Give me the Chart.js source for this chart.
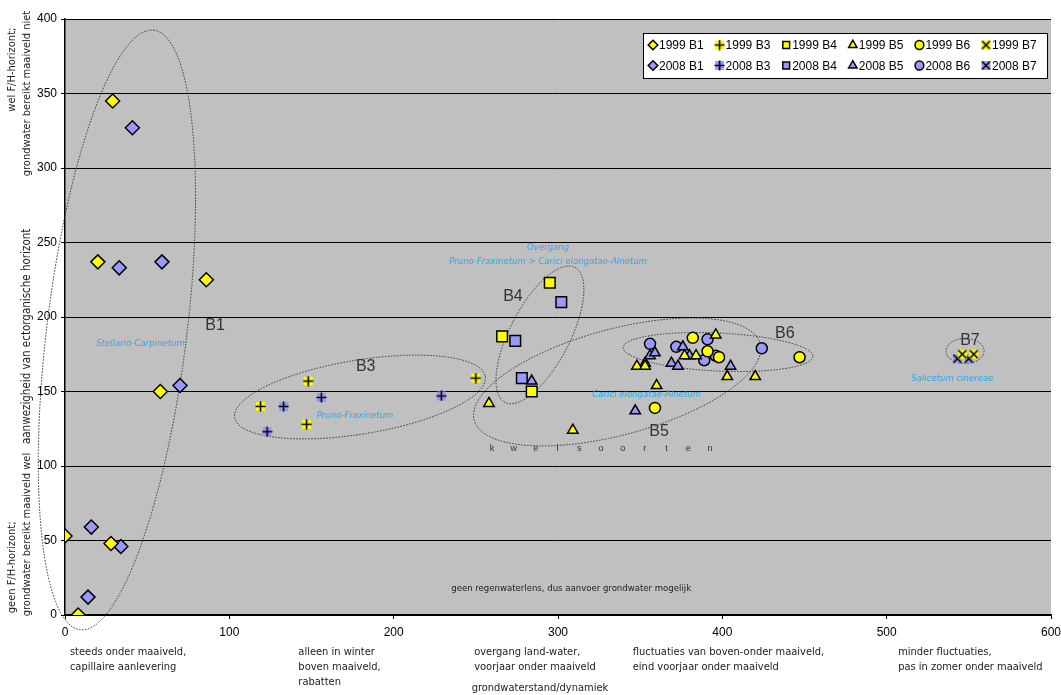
<!DOCTYPE html>
<html>
<head>
<meta charset="utf-8">
<script src="https://cdn.jsdelivr.net/npm/chart.js@4"></script>
<style>
  html, body { margin: 0; padding: 0; background: #fff; }
  #wrap { width: 1061px; height: 695px; }
</style>
</head>
<body>
<div id="wrap"><canvas id="chart"></canvas></div>
<script>
// data: [grondwaterstand/dynamiek, ectorganische horizont]
const b1_1999 = [[29, 345], [20, 237], [86, 225], [58, 150], [0, 53], [28, 48], [8, 0]];
const b1_2008 = [[41, 327], [33, 233], [59, 237], [70, 154], [16, 59], [34, 46], [14, 12]];
const b3_1999 = [[148, 157], [119, 140], [147, 128], [250, 159]];
const b3_2008 = [[133, 140], [156, 146], [123, 123], [229, 147]];
const b4_1999 = [[295, 223], [266, 187], [284, 150]];
const b4_2008 = [[302, 210], [274, 184], [278, 159]];
const b5_1999 = [[258, 142], [309, 124], [348, 167], [353, 167], [360, 154], [377, 174], [384, 174], [396, 188], [403, 160], [420, 160]];
const b5_2008 = [[284, 157], [347, 137], [356, 174], [359, 176], [353, 169], [369, 169], [373, 167], [376, 180], [380, 174], [405, 167]];
const b6_1999 = [[382, 186], [391, 177], [398, 173], [447, 173], [359, 139]];
const b6_2008 = [[356, 182], [372, 180], [391, 185], [396, 174], [389, 171], [424, 179]];
const b7_1999 = [[546, 175], [553, 175]];
const b7_2008 = [[543, 172], [550, 172]];

const xTicks = [0, 100, 200, 300, 400, 500, 600];
const yTicks = [0, 50, 100, 150, 200, 250, 300, 350, 400];

const YELLOW = "#ffff00";
const BLUE = "#9999ff";

// zone labels under the x axis
const xDescriptions = [
    { x: 3, lines: ["steeds onder maaiveld,", "capillaire aanlevering"] },
    { x: 142, lines: ["alleen in winter", "boven maaiveld,", "rabatten"] },
    { x: 249, lines: ["overgang land-water,", "voorjaar onder maaiveld"] },
    { x: 345.5, lines: ["fluctuaties van boven-onder maaiveld,", "eind voorjaar onder maaiveld"] },
    { x: 507, lines: ["minder fluctuaties,", "pas in zomer onder maaiveld"] }
];

// dotted groups: centre in data units, radii in px, rotation in degrees
const groups = [
    { x: 31.6, y: 191.3, rx: 302, ry: 70, rot: -83 },
    { x: 179.5, y: 146.3, rx: 127, ry: 37, rot: -9.3 },
    { x: 289, y: 188, rx: 76, ry: 30, rot: -62.6 },
    { x: 336, y: 156.4, rx: 148, ry: 53, rot: -15 },
    { x: 397.4, y: 176.5, rx: 95, ry: 19, rot: 2.7 },
    { x: 547.7, y: 177.2, rx: 19, ry: 12.5, rot: 0 }
];
const groupNames = [
    { text: "B1", x: 91.3, y: 194 },
    { text: "B3", x: 183, y: 167 },
    { text: "B4", x: 272.6, y: 213.4 },
    { text: "B5", x: 361.5, y: 122.8 },
    { text: "B6", x: 438, y: 188.6 },
    { text: "B7", x: 550.7, y: 183.9 }
];
const vegetationNames = [
    { text: "Stellario-Carpinetum", x: 46, y: 182 },
    { text: "Pruno-Fraxinetum", x: 176.5, y: 133.6 },
    { text: "Overgang", x: 294, y: 246.3 },
    { text: "Pruno-Fraxinetum > Carici elongatae-Alnetum", x: 294, y: 237.3 },
    { text: "Carici elongatae-Alnetum", x: 354, y: 148.3 },
    { text: "Salicetum cinereae", x: 540, y: 159 }
];

const NARROW = "'Liberation Sans Narrow', 'DejaVu Sans Condensed', 'Liberation Sans', sans-serif";

function toPoints(arr) {
    return arr.map(p => ({ x: p[0], y: p[1] }));
}

// Excel style "+" and "x" markers: coloured square with black strokes
function crossMarker(fill, diagonal) {
    const c = document.createElement("canvas");
    c.width = 11;
    c.height = 11;
    const g = c.getContext("2d");
    g.fillStyle = fill;
    g.fillRect(1, 1, 9, 9);
    g.strokeStyle = "#000";
    g.lineWidth = 1.6;
    g.beginPath();
    if (diagonal) {
        g.moveTo(1.5, 1.5); g.lineTo(9.5, 9.5);
        g.moveTo(9.5, 1.5); g.lineTo(1.5, 9.5);
    } else {
        g.moveTo(5.5, 0.5); g.lineTo(5.5, 10.5);
        g.moveTo(0.5, 5.5); g.lineTo(10.5, 5.5);
    }
    g.stroke();
    return c;
}

function makeSet(label, arr, color, style, radius) {
    return {
        label: label,
        data: toPoints(arr),
        pointStyle: style,
        pointRadius: radius,
        pointHoverRadius: radius,
        backgroundColor: color,
        borderColor: "#000",
        borderWidth: 1.5,
        showLine: false
    };
}

const datasets = [
    makeSet("1999 B1", b1_1999, YELLOW, "rectRot", 7),
    makeSet("1999 B3", b3_1999, YELLOW, crossMarker(YELLOW, false), 5),
    makeSet("1999 B4", b4_1999, YELLOW, "rect", 7.5),
    makeSet("1999 B5", b5_1999, YELLOW, "triangle", 6),
    makeSet("1999 B6", b6_1999, YELLOW, "circle", 5.5),
    makeSet("1999 B7", b7_1999, YELLOW, crossMarker(YELLOW, true), 5),
    makeSet("2008 B1", b1_2008, BLUE, "rectRot", 7),
    makeSet("2008 B3", b3_2008, BLUE, crossMarker(BLUE, false), 5),
    makeSet("2008 B4", b4_2008, BLUE, "rect", 7.5),
    makeSet("2008 B5", b5_2008, BLUE, "triangle", 6),
    makeSet("2008 B6", b6_2008, BLUE, "circle", 5.5),
    makeSet("2008 B7", b7_2008, BLUE, crossMarker(BLUE, true), 5)
];

// grey plot area
const plotBackground = {
    id: "plotBackground",
    beforeDraw(chart) {
        const { ctx, chartArea: a } = chart;
        ctx.save();
        ctx.fillStyle = "#fff";
        ctx.fillRect(0, 0, chart.width, chart.height);
        ctx.fillStyle = "#c0c0c0";
        ctx.fillRect(a.left, a.top, a.right - a.left, a.bottom - a.top);
        ctx.restore();
    }
};

// ellipses and text inside the plot
const annotations = {
    id: "annotations",
    beforeDatasetsDraw(chart) {
        const { ctx } = chart;
        const xs = chart.scales.x, ys = chart.scales.y;
        ctx.save();
        ctx.strokeStyle = "#333";
        ctx.lineWidth = 1;
        ctx.setLineDash([1.5, 1.5]);
        groups.forEach(g => {
            ctx.beginPath();
            ctx.ellipse(xs.getPixelForValue(g.x), ys.getPixelForValue(g.y), g.rx, g.ry, g.rot * Math.PI / 180, 0, Math.PI * 2);
            ctx.stroke();
        });
        ctx.setLineDash([]);

        ctx.textAlign = "center";
        ctx.textBaseline = "middle";
        ctx.fillStyle = "#333";
        ctx.font = "16px 'Liberation Sans', Arial, sans-serif";
        groupNames.forEach(n => ctx.fillText(n.text, xs.getPixelForValue(n.x), ys.getPixelForValue(n.y)));

        ctx.fillStyle = "#29a9e6";
        ctx.font = "italic 9.5px " + NARROW;
        vegetationNames.forEach(n => ctx.fillText(n.text, xs.getPixelForValue(n.x), ys.getPixelForValue(n.y)));

        ctx.fillStyle = "#333";
        ctx.font = "9px 'Liberation Sans', Arial, sans-serif";
        const kwel = "kwelsoorten".split("");
        const kx = xs.getPixelForValue(326.2), ky = ys.getPixelForValue(112);
        kwel.forEach((ch, i) => ctx.fillText(ch, kx + (i - (kwel.length - 1) / 2) * 21.8, ky));

        ctx.fillStyle = "#222";
        ctx.font = "9.5px " + NARROW;
        ctx.fillText("geen regenwaterlens, dus aanvoer grondwater mogelijk", xs.getPixelForValue(308), ys.getPixelForValue(18));
        ctx.restore();
    }
};

// axis descriptions and legend box
const extras = {
    id: "extras",
    afterDraw(chart) {
        const { ctx, chartArea: a } = chart;
        const xs = chart.scales.x, ys = chart.scales.y;
        ctx.save();
        ctx.fillStyle = "#222";
        ctx.font = "11px " + NARROW;
        ctx.textBaseline = "middle";
        ctx.textAlign = "left";
        xDescriptions.forEach(d => {
            d.lines.forEach((t, i) => ctx.fillText(t, xs.getPixelForValue(d.x), a.bottom + 37 + i * 15));
        });
        ctx.textAlign = "center";
        ctx.fillText("grondwaterstand/dynamiek", xs.getPixelForValue(289), a.bottom + 73);

        // y axis texts, rotated
        const yTitles = [
            { text: "wel F/H-horizont;", x: 12, y: ys.getPixelForValue(366), size: 11 },
            { text: "grondwater bereikt maaiveld niet", x: 27, y: ys.getPixelForValue(350), size: 11 },
            { text: "aanwezigheid van ectorganische horizont", x: 27, y: ys.getPixelForValue(187), size: 11.5 },
            { text: "geen F/H-horizont;", x: 12, y: ys.getPixelForValue(32), size: 11 },
            { text: "grondwater bereikt maaiveld wel", x: 27, y: ys.getPixelForValue(54), size: 11 }
        ];
        yTitles.forEach(t => {
            ctx.save();
            ctx.translate(t.x, t.y);
            ctx.rotate(-Math.PI / 2);
            ctx.font = t.size + "px " + NARROW;
            ctx.fillText(t.text, 0, 0);
            ctx.restore();
        });

        // legend
        const lx = a.right - 408, ly = a.top + 14, lw = 404, lh = 45;
        ctx.fillStyle = "#fff";
        ctx.fillRect(lx, ly, lw, lh);
        ctx.strokeStyle = "#000";
        ctx.lineWidth = 1;
        ctx.strokeRect(lx + 0.5, ly + 0.5, lw, lh);
        ctx.font = "12px 'Liberation Sans', Arial, sans-serif";
        ctx.textAlign = "left";
        chart.data.datasets.forEach((ds, i) => {
            const col = i % 6, row = Math.floor(i / 6);
            const px = lx + 10 + col * 66.6, py = ly + 12 + row * 20.5;
            ctx.fillStyle = ds.backgroundColor;
            ctx.strokeStyle = "#000";
            ctx.lineWidth = 1.5;
            const r = typeof ds.pointStyle === "string" ? Math.min(ds.pointRadius, 6) * 0.8 : 4;
            Chart.helpers.drawPoint(ctx, { pointStyle: ds.pointStyle, radius: r, borderWidth: 1.5, rotation: 0 }, px, py);
            ctx.fillStyle = "#000";
            ctx.fillText(ds.label, px + 6, py + 1);
        });
        ctx.restore();
    }
};

new Chart(document.getElementById("chart"), {
    type: "scatter",
    data: { datasets: datasets },
    options: {
        responsive: true,
        maintainAspectRatio: false,
        animation: false,
        layout: { padding: { top: 19, right: 10, left: 0, bottom: 0 } },
        plugins: {
            legend: { display: false },
            tooltip: { enabled: false }
        },
        scales: {
            x: {
                type: "linear",
                min: 0,
                max: 600,
                afterBuildTicks: s => { s.ticks = xTicks.map(v => ({ value: v })); },
                afterFit: s => { s.height = 80; s.paddingLeft = 0; s.paddingRight = 0; },
                ticks: { color: "#000", font: { family: "'Liberation Sans', Arial, sans-serif", size: 12 }, padding: 6 },
                grid: { drawOnChartArea: false, drawTicks: true, tickLength: 4, color: "#000" },
                border: { color: "#000", width: 1.5 }
            },
            y: {
                type: "linear",
                min: 0,
                max: 400,
                afterBuildTicks: s => { s.ticks = yTicks.map(v => ({ value: v })); },
                afterFit: s => { s.width = 65; s.paddingTop = 0; s.paddingBottom = 0; },
                ticks: { color: "#000", font: { family: "'Liberation Sans', Arial, sans-serif", size: 12 }, padding: 4 },
                grid: { color: "#000", lineWidth: 1, tickLength: 4 },
                border: { color: "#000", width: 1.5 }
            }
        }
    },
    plugins: [plotBackground, annotations, extras]
});
</script>
</body>
</html>
